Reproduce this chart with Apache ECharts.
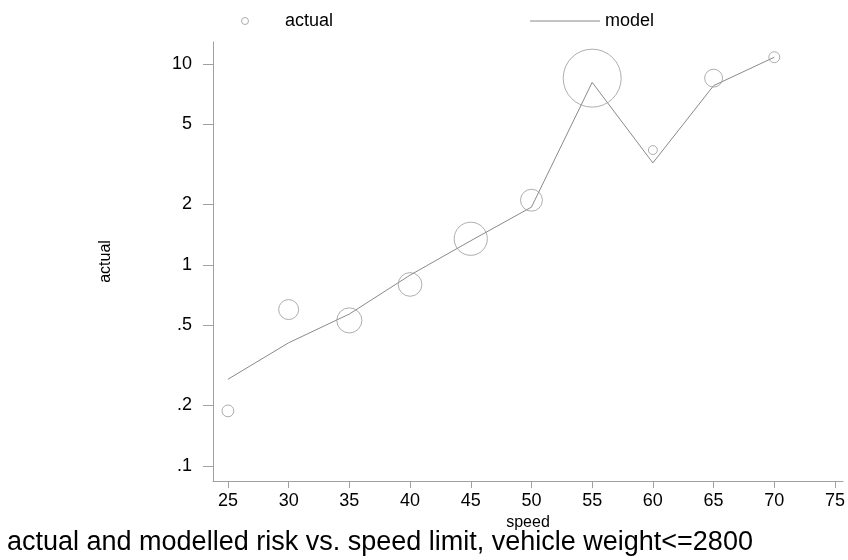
<!DOCTYPE html>
<html>
<head>
<meta charset="utf-8">
<script src="https://cdn.jsdelivr.net/npm/echarts@6/dist/echarts.min.js"></script>
<style>html,body{margin:0;padding:0;background:#fff}#c{width:848px;height:560px}</style>
</head>
<body>
<div id="c"></div>
<script>
// ---- data ----
const speeds = [25, 30, 35, 40, 45, 50, 55, 60, 65, 70];
const actualRisk = [0.188, 0.60, 0.53, 0.80, 1.35, 2.10, 8.5, 3.73, 8.5, 10.8];
const bubbleWeight = [1.4, 4.0, 6.3, 5.6, 11.0, 4.8, 33.6, 0.8, 3.2, 1.2];
const modelRisk = [0.27, 0.41, 0.57, 0.89, 1.32, 1.94, 8.1, 3.22, 7.8, 10.8];
const xTicks = [25, 30, 35, 40, 45, 50, 55, 60, 65, 70, 75];
const yTicks = [0.1, 0.2, 0.5, 1, 2, 5, 10];
const yTickLabels = ['.1', '.2', '.5', '1', '2', '5', '10'];

const FONT = "'Liberation Sans', Arial, sans-serif";
const chart = echarts.init(document.getElementById('c'), null, {renderer: 'canvas'});
const axisGray = '#a0a0a0';
chart.setOption({
  animation: false,
  backgroundColor: '#fff',
  title: {
    text: 'actual and modelled risk vs. speed limit, vehicle weight<=2800',
    left: 2, top: 524,
    textStyle: {fontFamily: FONT, fontSize: 27, fontWeight: 'normal', color: '#000'}
  },
  legend: [
    {data: [{name: 'actual', icon: 'circle'}], left: 241, top: 12, padding: 0,
     itemWidth: 70, itemHeight: 7,
     itemStyle: {color: 'rgba(0,0,0,0)', borderColor: '#9a9a9a', borderWidth: 1},
     textStyle: {fontFamily: FONT, fontSize: 18, color: '#000'}},
    {data: [{name: 'model', icon: 'rect'}], left: 530, top: 12, padding: 0,
     itemWidth: 70, itemHeight: 1,
     itemStyle: {color: '#8a8a8a', borderWidth: 0},
     textStyle: {fontFamily: FONT, fontSize: 18, color: '#000'}}
  ],
  grid: {left: 213, top: 42, width: 632, height: 439, containLabel: false},
  xAxis: {
    type: 'value', min: 23.77, max: 75.66,
    name: 'speed', nameLocation: 'middle', nameGap: 29,
    nameTextStyle: {fontFamily: FONT, fontSize: 16, color: '#000'},
    axisLine: {show: true, lineStyle: {color: axisGray, width: 1}},
    axisTick: {show: true, length: 7, inside: false, customValues: xTicks, lineStyle: {color: axisGray}},
    axisLabel: {customValues: xTicks, margin: 11, fontFamily: FONT, fontSize: 18, color: '#000'},
    splitLine: {show: false}
  },
  yAxis: {
    type: 'log', logBase: 10, min: 0.0842, max: 12.86,
    name: 'actual', nameLocation: 'middle', nameGap: 99, nameRotate: 90,
    nameTextStyle: {fontFamily: FONT, fontSize: 16, color: '#000'},
    axisLine: {show: true, lineStyle: {color: axisGray, width: 1}},
    axisTick: {show: true, length: 10, inside: false, customValues: yTicks, lineStyle: {color: axisGray}},
    axisLabel: {customValues: yTicks, margin: 21, fontFamily: FONT, fontSize: 18, color: '#000',
      formatter: function (v) { const i = yTicks.findIndex(t => Math.abs(t - v) / t < 1e-6); return i >= 0 ? yTickLabels[i] : ''; }},
    splitLine: {show: false}
  },
  series: [
    {
      name: 'actual', type: 'scatter',
      data: speeds.map((s, i) => [s, actualRisk[i], bubbleWeight[i]]),
      symbol: 'circle',
      symbolSize: function (d) { return 10 * Math.sqrt(d[2]); },
      itemStyle: {color: 'rgba(0,0,0,0)', borderColor: '#9a9a9a', borderWidth: 1},
      z: 3
    },
    {
      name: 'model', type: 'line',
      data: speeds.map((s, i) => [s, modelRisk[i]]),
      symbol: 'none', showSymbol: false,
      lineStyle: {color: '#8a8a8a', width: 1},
      itemStyle: {color: '#8a8a8a'},
      z: 2
    }
  ]
});
</script>
</body>
</html>
